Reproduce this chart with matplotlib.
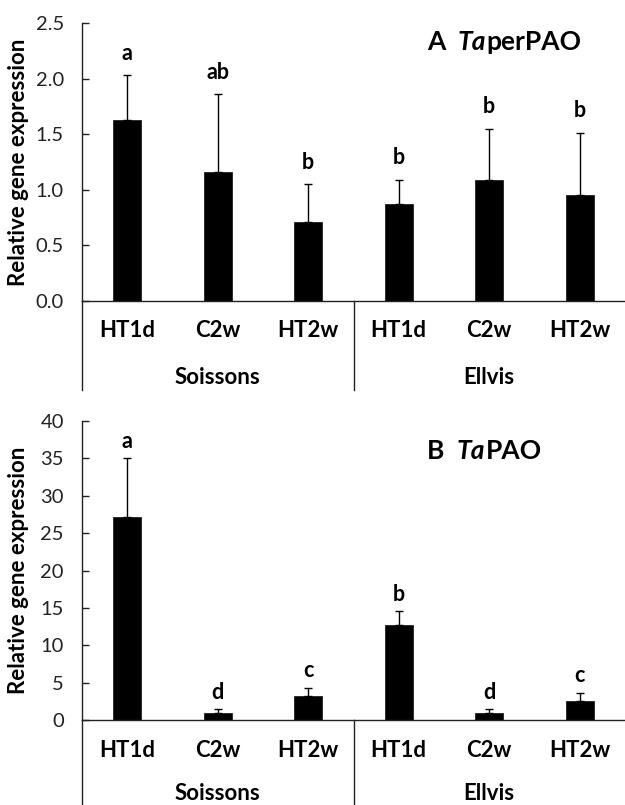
"""Relative gene expression of TaperPAO and TaPAO in two wheat cultivars"""

import numpy as np
import matplotlib
matplotlib.use('Agg')
import matplotlib.pyplot as plt
import matplotlib.transforms as mtransforms

plt.rcParams['font.family'] = ['Lato', 'DejaVu Sans']

# Data
treatments = ['HT1d', 'C2w', 'HT2w', 'HT1d', 'C2w', 'HT2w']
cultivars = ['Soissons', 'Ellvis']

perpao_mean = [1.63, 1.165, 0.714, 0.876, 1.086, 0.954]
perpao_err = [0.40, 0.695, 0.336, 0.214, 0.464, 0.561]
perpao_letters = ['a', 'ab', 'b', 'b', 'b', 'b']

pao_mean = [27.1, 0.98, 3.3, 12.77, 0.98, 2.58]
pao_err = [7.9, 0.49, 1.06, 1.78, 0.52, 1.12]
pao_letters = ['a', 'd', 'c', 'b', 'd', 'c']


def draw_panel(ax, means, errs, letters, ymax, ystep, fmt, label_off, title_ital, title_rest,
               title_y, line_bottom, group_y):
    """Draw one bar panel in the Excel-like style"""
    x = np.arange(len(means))
    ax.bar(x, means, width=0.31, color='black', edgecolor='#202020', linewidth=0.6, zorder=2)
    ax.errorbar(x, means, yerr=[np.zeros(len(errs)), errs], fmt='none', ecolor='black',
                elinewidth=1.0, capsize=3, capthick=1.0, zorder=3)

    # significance letters above the error bars
    for xi, m, e, let in zip(x, means, errs, letters):
        ax.annotate(let, xy=(xi, m + e), xytext=(0, label_off), textcoords='offset points',
                    ha='center', va='center', fontsize=15.5, fontweight='bold')

    ax.set_xlim(-0.5, len(means) - 0.5)
    ax.set_ylim(0, ymax)
    ax.set_yticks(np.arange(0, ymax + ystep / 2, ystep))
    ax.yaxis.set_major_formatter(plt.FormatStrFormatter(fmt))
    ax.tick_params(axis='y', direction='in', length=5, width=1, pad=13, labelsize=14.5,
                   colors='#222222')
    ax.set_xticks(x)
    ax.set_xticklabels(treatments, fontsize=16, fontweight='bold')
    ax.tick_params(axis='x', length=0, pad=14)

    for s in ['top', 'right']:
        ax.spines[s].set_visible(False)
    ax.spines['left'].set_linewidth(1)
    ax.spines['bottom'].set_linewidth(1)
    ax.spines['left'].set_color('#222222')
    ax.spines['bottom'].set_color('#222222')

    ax.set_ylabel('Relative gene expression', fontsize=16, fontweight='bold')
    ax.yaxis.set_label_coords(-0.098, 0.5)

    # multi-level category axis: left line and group divider extend down
    trans = mtransforms.blended_transform_factory(ax.transData, ax.transAxes)
    for xd in [-0.5, 2.5]:
        ax.plot([xd, xd], [0, line_bottom], transform=trans, color='#222222', lw=1,
                clip_on=False)
    for i, name in enumerate(cultivars):
        ax.text(1 + 3 * i, group_y, name, transform=trans, ha='center', va='center',
                fontsize=16, fontweight='bold')

    # panel title with italic part
    t1 = ax.text(0.635, title_y, title_ital[0] + '  ', transform=ax.transAxes, ha='left',
                 va='center', fontsize=19, fontweight='bold')
    t2 = ax.annotate(title_ital[1], xy=(1, 0), xycoords=t1, ha='left', va='bottom',
                     fontsize=19, fontweight='bold', fontstyle='italic')
    ax.annotate(title_rest, xy=(1, 0), xycoords=t2, ha='left', va='bottom',
                fontsize=19, fontweight='bold')


fig = plt.figure(figsize=(6.25, 8.05), dpi=100)
ax1 = fig.add_axes([0.1312, 0.6261, 0.8688, 0.345])
ax2 = fig.add_axes([0.1312, 0.1052, 0.8688, 0.3722])

draw_panel(ax1, perpao_mean, perpao_err, perpao_letters, 2.5, 0.5, '%.1f', 16,
           ('A', 'Ta'), 'perPAO', 0.933, -0.32, -0.274)
draw_panel(ax2, pao_mean, pao_err, pao_letters, 40, 5, '%d', 12,
           ('B', 'Ta'), 'PAO', 0.899, -0.30, -0.243)

fig.savefig('out.png', dpi=100)
